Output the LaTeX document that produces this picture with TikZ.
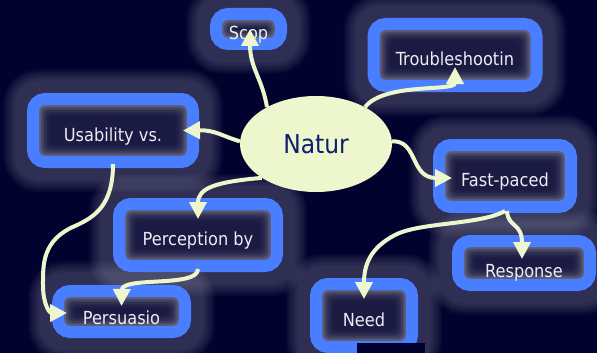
\documentclass[tikz,border=0pt]{standalone}
\usepackage{fontspec}
\setmainfont{DejaVu Sans Condensed}
\usetikzlibrary{arrows.meta,shapes.geometric}
\definecolor{bgc}{RGB}{2,2,46}
\definecolor{bblue}{RGB}{72,126,255}
\definecolor{cream}{RGB}{238,246,206}
\definecolor{haze}{RGB}{125,125,150}
\definecolor{edgegray}{RGB}{92,92,118}
\definecolor{corefill}{RGB}{14,14,58}
\definecolor{natnavy}{RGB}{16,30,110}
\definecolor{boxtext}{RGB}{236,236,244}
\pgfdeclarelayer{bg}
\pgfsetlayers{bg,main}
\begin{document}
\begin{tikzpicture}[x=1pt,y=-1pt,
  conceptbox/.style={draw=bblue, line width=12pt, rounded corners=12pt, fill=edgegray,
    text=boxtext, font=\fontsize{18}{20}\selectfont, inner sep=0pt,
    text height=21pt, text depth=0pt,
    path picture={
      \foreach \d in {8,9.5,11,12.5,14,15.5,17}{
        \fill[corefill, opacity=0.22, rounded corners=5pt] ([shift={(\d pt,\d pt)}]path picture bounding box.south west) rectangle ([shift={(-\d pt,-\d pt)}]path picture bounding box.north east);
      }
    }},
  hazestroke/.style={draw=haze, rounded corners=12pt},
  arr/.style={draw=cream, line width=4pt, -{Triangle[length=17pt,width=17pt]}}
]
\useasboundingbox (0,0) rectangle (597,353);

% boxes
\node[conceptbox, minimum width=65pt, minimum height=30pt] (scop) at (248.5,29) {Scop};
\node[conceptbox, minimum width=163pt, minimum height=62pt] (trouble) at (455,55) {Troubleshootin};
\node[conceptbox, minimum width=160pt, minimum height=63pt] (usab) at (113,130.5) {Usability vs.};
\node[conceptbox, minimum width=132pt, minimum height=62pt] (fast) at (505,176) {Fast-paced};
\node[conceptbox, minimum width=158pt, minimum height=62pt] (perc) at (198,235) {Perception by};
\node[conceptbox, minimum width=132pt, minimum height=44pt, text height=29pt] (resp) at (524,263) {Response};
\node[conceptbox, minimum width=127pt, minimum height=41pt, text height=26pt] (pers) at (121.5,311.5) {Persuasio};
\node[conceptbox, minimum width=96pt, minimum height=63pt] (need) at (364,315.5) {Need};
\fill[bgc] (356.7,343.3) rectangle (425,353);

% central ellipse
\node[ellipse, fill=cream, minimum width=152pt, minimum height=96pt, inner sep=0pt,
  text=natnavy, font=\fontsize{26}{28}\selectfont] (natur) at (316,144) {Natur};

% background and haze
\begin{pgfonlayer}{bg}
\fill[bgc] (0,0) rectangle (597,353);
\foreach \n in {scop,trouble,usab,fast,perc,resp,pers,need}{
  \foreach \w in {48,45,42,39,36,33,30,27,24}{
    \draw[hazestroke, line width=\w pt, opacity=0.055] (\n.south west) rectangle (\n.north east);
  }
}
\end{pgfonlayer}

% connectors
\draw[arr] (natur.143) .. controls (262,78) and (250,68) .. ([xshift=1.5pt]scop.center);
\draw[arr] (natur.37) .. controls (385,82) and (455,92) .. ([yshift=-12pt]trouble.center);
\draw[arr] (natur.178) .. controls (222,136) and (215,130) .. ([xshift=-16pt]usab.east);
\draw[arr] (natur.2) .. controls (418,140) and (410,178) .. ([xshift=19pt,yshift=-2pt]fast.west);
\draw[arr] (natur.212) .. controls (215,182) and (198,188) .. ([yshift=-21pt]perc.north);
\draw[arr] ([yshift=4pt]usab.south) .. controls (113,205) and (95,217) .. (75,226)
  .. controls (42,240) and (43,265) .. (43,285)
  .. controls (43,305) and (50,313) .. ([xshift=15pt,yshift=-1.5pt]pers.west);
\draw[arr] ([yshift=3pt]perc.south) .. controls (198,288) and (122,276) .. ([yshift=-21pt]pers.north);
\draw[arr] ([yshift=2pt]fast.south) .. controls (480,225) and (420,222) .. (395,235)
  .. controls (370,248) and (364,265) .. ([yshift=-21pt]need.north);
\draw[arr] ([xshift=2pt,yshift=2pt]fast.south) .. controls (508,228) and (522,222) .. ([xshift=-2pt,yshift=-24pt]resp.north);
\end{tikzpicture}
\end{document}
